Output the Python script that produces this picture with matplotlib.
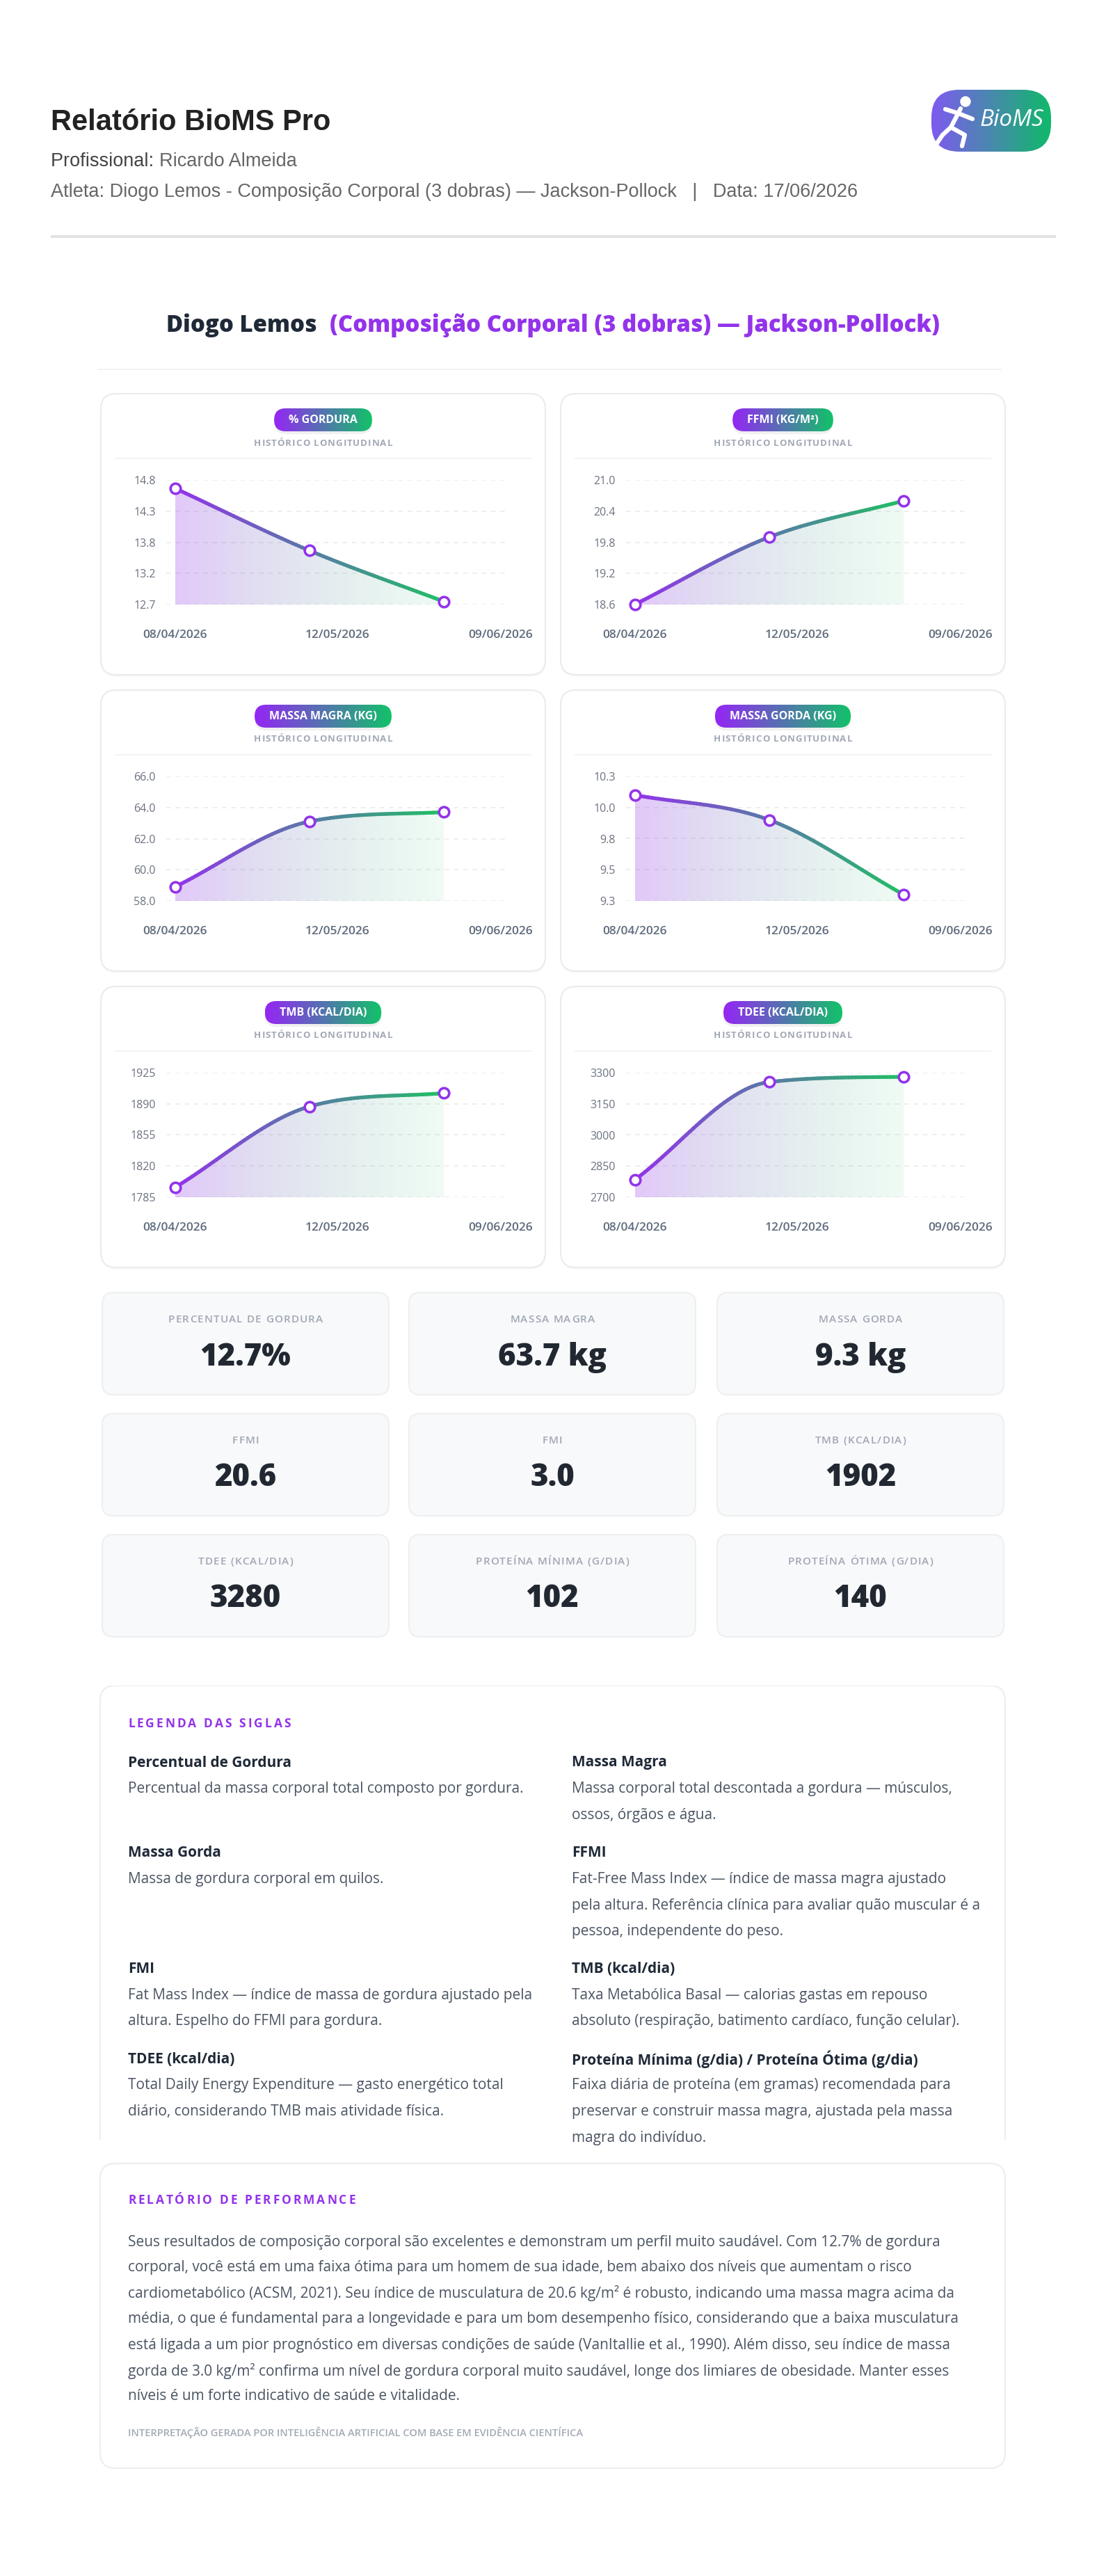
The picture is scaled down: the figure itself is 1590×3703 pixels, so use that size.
import numpy as np
import matplotlib
matplotlib.use("Agg")
import matplotlib.pyplot as plt
from matplotlib.patches import FancyBboxPatch, Rectangle, Polygon
from matplotlib.collections import LineCollection
from matplotlib.colors import LinearSegmentedColormap, to_rgba

plt.rcParams['font.family'] = ['Open Sans', 'DejaVu Sans']

W, H = 1590, 3703
PURPLE = '#9333ea'
GREEN = '#1fc063'
DARK = '#1f2937'
GRAY = '#4b5563'

# ---- data ----
dates = ['08/04/2026', '12/05/2026', '09/06/2026']
gordura = [14.66, 13.61, 12.75]
ffmi = [18.6, 19.9, 20.6]
massa_magra = [58.9, 63.1, 63.7]
massa_gorda = [10.15, 9.95, 9.35]
tmb = [1796, 1887, 1902]
tdee = [2784, 3255, 3280]

chart_titles = ['% GORDURA', 'FFMI (KG/M²)', 'MASSA MAGRA (KG)',
                'MASSA GORDA (KG)', 'TMB (KCAL/DIA)', 'TDEE (KCAL/DIA)']
chart_series = [gordura, ffmi, massa_magra, massa_gorda, tmb, tdee]
y_ranges = [(12.7, 14.8), (18.6, 21.0), (58.0, 66.0), (9.3, 10.3), (1785, 1925), (2700, 3300)]
y_labels = [['12.7', '13.2', '13.8', '14.3', '14.8'],
            ['18.6', '19.2', '19.8', '20.4', '21.0'],
            ['58.0', '60.0', '62.0', '64.0', '66.0'],
            ['9.3', '9.5', '9.8', '10.0', '10.3'],
            ['1785', '1820', '1855', '1890', '1925'],
            ['2700', '2850', '3000', '3150', '3300']]

kpi_labels = ['PERCENTUAL DE GORDURA', 'MASSA MAGRA', 'MASSA GORDA',
              'FFMI', 'FMI', 'TMB (KCAL/DIA)',
              'TDEE (KCAL/DIA)', 'PROTEÍNA MÍNIMA (G/DIA)', 'PROTEÍNA ÓTIMA (G/DIA)']
kpi_values = ['12.7%', '63.7 kg', '9.3 kg', '20.6', '3.0', '1902', '3280', '102', '140']

legend_left = [
    ('Percentual de Gordura', ['Percentual da massa corporal total composto por gordura.']),
    ('Massa Gorda', ['Massa de gordura corporal em quilos.']),
    ('FMI', ['Fat Mass Index — índice de massa de gordura ajustado pela',
             'altura. Espelho do FFMI para gordura.']),
    ('TDEE (kcal/dia)', ['Total Daily Energy Expenditure — gasto energético total',
                         'diário, considerando TMB mais atividade física.']),
]
legend_right = [
    ('Massa Magra', ['Massa corporal total descontada a gordura — músculos,',
                     'ossos, órgãos e água.']),
    ('FFMI', ['Fat-Free Mass Index — índice de massa magra ajustado',
              'pela altura. Referência clínica para avaliar quão muscular é a',
              'pessoa, independente do peso.']),
    ('TMB (kcal/dia)', ['Taxa Metabólica Basal — calorias gastas em repouso',
                        'absoluto (respiração, batimento cardíaco, função celular).']),
    ('Proteína Mínima (g/dia) / Proteína Ótima (g/dia)',
     ['Faixa diária de proteína (em gramas) recomendada para',
      'preservar e construir massa magra, ajustada pela massa',
      'magra do indivíduo.']),
]

report_lines = [
    'Seus resultados de composição corporal são excelentes e demonstram um perfil muito saudável. Com 12.7% de gordura',
    'corporal, você está em uma faixa ótima para um homem de sua idade, bem abaixo dos níveis que aumentam o risco',
    'cardiometabólico (ACSM, 2021). Seu índice de musculatura de 20.6 kg/m² é robusto, indicando uma massa magra acima da',
    'média, o que é fundamental para a longevidade e para um bom desempenho físico, considerando que a baixa musculatura',
    'está ligada a um pior prognóstico em diversas condições de saúde (VanItallie et al., 1990). Além disso, seu índice de massa',
    'gorda de 3.0 kg/m² confirma um nível de gordura corporal muito saudável, longe dos limiares de obesidade. Manter esses',
    'níveis é um forte indicativo de saúde e vitalidade.',
]

# ---- figure / page axes in pixel units ----
fig = plt.figure(figsize=(W / 100, H / 100), dpi=100)
fig.patch.set_facecolor('white')
bg = fig.add_axes([0, 0, 1, 1], zorder=0)
bg.set_xlim(0, W)
bg.set_ylim(H, 0)
bg.set_autoscale_on(False)
bg.axis('off')
renderer = fig.canvas.get_renderer()


def rbox(x, y, w, h, r, fc, ec='none', lw=1.5, z=1):
    p = FancyBboxPatch((x, y), w, h, boxstyle=f"round,pad=0,rounding_size={r}",
                       fc=fc, ec=ec, lw=lw, zorder=z)
    bg.add_patch(p)
    return p


def grad_box(x, y, w, h, r, c0, c1, z=2):
    p = rbox(x, y, w, h, r, 'none', z=z)
    cmap = LinearSegmentedColormap.from_list('g', [c0, c1])
    im = bg.imshow(np.linspace(0, 1, 256)[None, :], extent=(x, x + w, y + h, y),
                   cmap=cmap, aspect='auto', zorder=z, interpolation='bilinear')
    im.set_clip_path(p)
    return p


def px_axes(left, top, width, height):
    return fig.add_axes([left / W, 1 - (top + height) / H, width / W, height / H], zorder=2)


def text_width(t):
    return t.get_window_extent(renderer=renderer).width


def tracked(x, y, s, track, ha='left', **kw):
    # text with extra letter spacing, drawn glyph by glyph
    probe = bg.text(0, 0, 'xx', **kw)
    base = text_width(probe)
    adv = []
    for ch in s:
        probe.set_text('x' + ch + 'x')
        adv.append(text_width(probe) - base)
    probe.remove()
    total = sum(adv) + track * (len(s) - 1)
    cur = x - total / 2 if ha == 'center' else x
    for ch, a in zip(s, adv):
        bg.text(cur, y, ch, ha='left', va='center', **kw)
        cur += a + track


def monotone_curve(ax, xs, ys, steps=40):
    pts = ax.transData.transform(np.column_stack([xs, ys]))
    px, py = pts[:, 0], pts[:, 1]
    n = len(pts)
    dk = np.diff(py) / np.diff(px)
    mk = np.zeros(n)
    mk[0], mk[-1] = dk[0], dk[-1]
    for i in range(1, n - 1):
        mk[i] = 0 if dk[i - 1] * dk[i] <= 0 else (dk[i - 1] + dk[i]) / 2
    for i in range(n - 1):
        if dk[i] == 0:
            mk[i] = mk[i + 1] = 0
            continue
        a, b = mk[i] / dk[i], mk[i + 1] / dk[i]
        tau = a * a + b * b
        if tau > 9:
            tt = 3 / np.sqrt(tau)
            mk[i] = a * tt * dk[i]
            mk[i + 1] = b * tt * dk[i]
    t = np.linspace(0, 1, steps)[:, None]
    out = []
    for i in range(n - 1):
        dx = (px[i + 1] - px[i]) / 3
        p0 = pts[i]
        p1 = np.array([px[i] + dx, py[i] + mk[i] * dx])
        p2 = np.array([px[i + 1] - dx, py[i + 1] - mk[i + 1] * dx])
        p3 = pts[i + 1]
        seg = ((1 - t) ** 3) * p0 + 3 * ((1 - t) ** 2) * t * p1 + 3 * (1 - t) * t ** 2 * p2 + t ** 3 * p3
        out.append(seg if i == 0 else seg[1:])
    return ax.transData.inverted().transform(np.vstack(out))


# ---- header ----
bg.text(73, 176, 'Relatório BioMS Pro', fontsize=30, fontweight='bold', color='#222222',
        family='Liberation Sans', va='center', ha='left')
t = bg.text(73, 232, 'Profissional: ', fontsize=19.5, color='#444444',
            family='Liberation Sans', va='center', ha='left')
bg.text(73 + text_width(t), 232, 'Ricardo Almeida', fontsize=19.5, color='#666666',
        family='Liberation Sans', va='center', ha='left')
bg.text(73, 276, 'Atleta: Diogo Lemos - Composição Corporal (3 dobras) — Jackson-Pollock   |   Data: 17/06/2026',
        fontsize=19.5, color='#666666', family='Liberation Sans', va='center', ha='left')
bg.add_patch(Rectangle((73, 338), 1445, 4, fc='#e2e2e2', ec='none'))

# logo
grad_box(1339, 129, 172, 89, 40, '#7f5af0', '#10b96a')
runner = [[(1381, 156), (1367, 183)], [(1378, 163), (1398, 171)], [(1378, 163), (1359, 157)],
          [(1367, 183), (1387, 194), (1383, 210)], [(1367, 183), (1355, 194), (1347, 206)]]
for seg in runner:
    xy = np.array(seg)
    bg.plot(xy[:, 0], xy[:, 1], color='white', lw=4.5, solid_capstyle='round', zorder=3)
bg.add_patch(plt.Circle((1388, 146), 7, color='white', zorder=3))
bg.text(1455, 172, 'BioMS', fontsize=24, style='italic', color='white',
        va='center', ha='center', zorder=3)

# athlete title
t1 = bg.text(0, 468, 'Diogo Lemos', fontsize=23.8, fontweight='heavy', color=DARK, va='center', ha='left')
t2 = bg.text(0, 468, '(Composição Corporal (3 dobras) — Jackson-Pollock)', fontsize=23.8,
             fontweight='heavy', color=PURPLE, va='center', ha='left')
w1, w2 = text_width(t1), text_width(t2)
x0 = 795 - (w1 + 18 + w2) / 2
t1.set_x(x0)
t2.set_x(x0 + w1 + 18)
bg.add_patch(Rectangle((140, 530), 1300, 2, fc='#f2f2f2', ec='none'))

# ---- chart cards ----
col_left = [145, 806]
row_top = [566, 992, 1418]
card_w, card_h = 639, 404
line_cmap = LinearSegmentedColormap.from_list('line', [PURPLE, GREEN])

for k, (title, series) in enumerate(zip(chart_titles, chart_series)):
    cx0 = col_left[k % 2]
    cy0 = row_top[k // 2]
    rbox(cx0 + 1, cy0 + 3, card_w, card_h, 22, (0, 0, 0, 0.025), z=0.5)
    rbox(cx0, cy0, card_w, card_h, 22, 'white', ec='#ebebeb', lw=1.5, z=1)

    ccx = cx0 + card_w / 2
    pt = bg.text(ccx, cy0 + 38, title, fontsize=11.5, fontweight='bold', color='white',
                 va='center', ha='center', zorder=4)
    pw = text_width(pt) + 42
    rbox(ccx - pw / 2, cy0 + 25, pw, 33, 16.5, (0, 0, 0, 0.06), z=1.5)
    grad_box(ccx - pw / 2, cy0 + 21, pw, 33, 16.5, '#9526f5', '#12c268', z=2)
    tracked(ccx, cy0 + 71, 'HISTÓRICO LONGITUDINAL', 1.0, ha='center', fontsize=9.5,
            fontweight='bold', color='#a3a9b5', zorder=3)
    bg.add_patch(Rectangle((cx0 + 20, cy0 + 92), card_w - 40, 1.5, fc='#f3f3f3', ec='none', zorder=2))

    ax = px_axes(cx0 + 94, cy0 + 124, 492, 179)
    ax.patch.set_visible(False)
    lo, hi = y_ranges[k]
    xs = np.arange(len(series))
    ax.set_xlim(-0.065, 2.48)
    ax.set_ylim(lo, hi)
    ax.set_autoscale_on(False)
    ax.set_yticks(np.linspace(lo, hi, 5))
    ax.set_yticklabels(y_labels[k])
    ax.set_xticks(np.linspace(0, 2.42, len(dates)))
    ax.set_xticklabels(dates)
    for s in ax.spines.values():
        s.set_visible(False)
    ax.tick_params(axis='y', length=0, pad=11, labelsize=11.5, labelcolor='#6b7280')
    ax.tick_params(axis='x', length=0, pad=26, labelsize=12.5, labelcolor='#5f6b7c')
    for lab in ax.get_xticklabels():
        lab.set_fontweight('semibold')
    ax.set_axisbelow(True)
    ax.yaxis.grid(True, color='#ebebeb', lw=1.2, ls=(0, (4, 4)))

    curve = monotone_curve(ax, xs, series)

    # gradient fill under the curve
    fr = np.linspace(0, 1, 256)[:, None]
    c0 = np.array(to_rgba(PURPLE, 0.27))
    c1 = np.array(to_rgba(GREEN, 0.07))
    img = (c0[None, :] * (1 - fr) + c1[None, :] * fr)[None, :, :]
    im = ax.imshow(img, extent=(xs[0], xs[-1], lo, hi), aspect='auto', zorder=1,
                   interpolation='bilinear')
    poly = Polygon(np.vstack([curve, [[xs[-1], lo], [xs[0], lo]]]), closed=True,
                   fc='none', ec='none')
    ax.add_patch(poly)
    im.set_clip_path(poly)

    # gradient line
    segs = np.stack([curve[:-1], curve[1:]], axis=1)
    frac = (curve[:-1, 0] - xs[0]) / (xs[-1] - xs[0])
    lc = LineCollection(segs, colors=line_cmap(frac), linewidths=3.8, capstyle='round', zorder=3)
    ax.add_collection(lc)
    ax.plot(xs, series, 'o', mfc='white', mec=PURPLE, mew=2.6, ms=10.5, zorder=5, clip_on=False)

# ---- KPI cards ----
kpi_left = [147, 588, 1031]
kpi_top = [1858, 2032, 2206]
for i, (lab, val) in enumerate(zip(kpi_labels, kpi_values)):
    x = kpi_left[i % 3]
    y = kpi_top[i // 3]
    rbox(x, y, 412, 147, 16, '#f8f9fa', ec='#eeeff1', lw=1.5, z=1)
    tracked(x + 206, y + 39, lab, 1.2, ha='center', fontsize=11, fontweight='semibold',
            color='#a0a7b4', zorder=3)
    bg.text(x + 206, y + 93, val, fontsize=31.5, fontweight='heavy', color='#222831',
            va='center', ha='center', zorder=3)

# ---- legend box (clipped) ----
clip = Rectangle((0, 2423), W, 653, transform=bg.transData)
lb = rbox(144, 2423, 1301, 720, 22, 'white', ec='#ededed', lw=1.5, z=1)
lb.set_clip_path(clip)
tracked(184, 2478, 'LEGENDA DAS SIGLAS', 3.0, fontsize=12.5, fontweight='bold',
        color=PURPLE, zorder=3)
y = 2534
for (lt, ld), (rt, rd) in zip(legend_left, legend_right):
    for xcol, term, desc in [(184, lt, ld), (822, rt, rd)]:
        tt = bg.text(xcol, y, term, fontsize=15, fontweight='bold', color=DARK,
                     va='center', ha='left', zorder=3)
        tt.set_clip_path(clip)
        for j, line in enumerate(desc):
            td = bg.text(xcol, y + 38 + 37.5 * j, line, fontsize=15, color=GRAY,
                         va='center', ha='left', zorder=3)
            td.set_clip_path(clip)
    y += 38 + 37.5 * (max(len(ld), len(rd)) - 1) + 54

# ---- performance report ----
rbox(144, 3110, 1301, 438, 22, 'white', ec='#ededed', lw=1.5, z=1)
tracked(184, 3163, 'RELATÓRIO DE PERFORMANCE', 3.0, fontsize=12.5, fontweight='bold',
        color=PURPLE, zorder=3)
for j, line in enumerate(report_lines):
    bg.text(184, 3223 + 37 * j, line, fontsize=15, color=GRAY, va='center', ha='left', zorder=3)
bg.text(184, 3497, 'INTERPRETAÇÃO GERADA POR INTELIGÊNCIA ARTIFICIAL COM BASE EM EVIDÊNCIA CIENTÍFICA',
        fontsize=10.5, fontweight='semibold', color='#a3a9b5', va='center', ha='left', zorder=3)

bg.set_xlim(0, W)
bg.set_ylim(H, 0)
fig.savefig('out.png', dpi=100, facecolor='white')
